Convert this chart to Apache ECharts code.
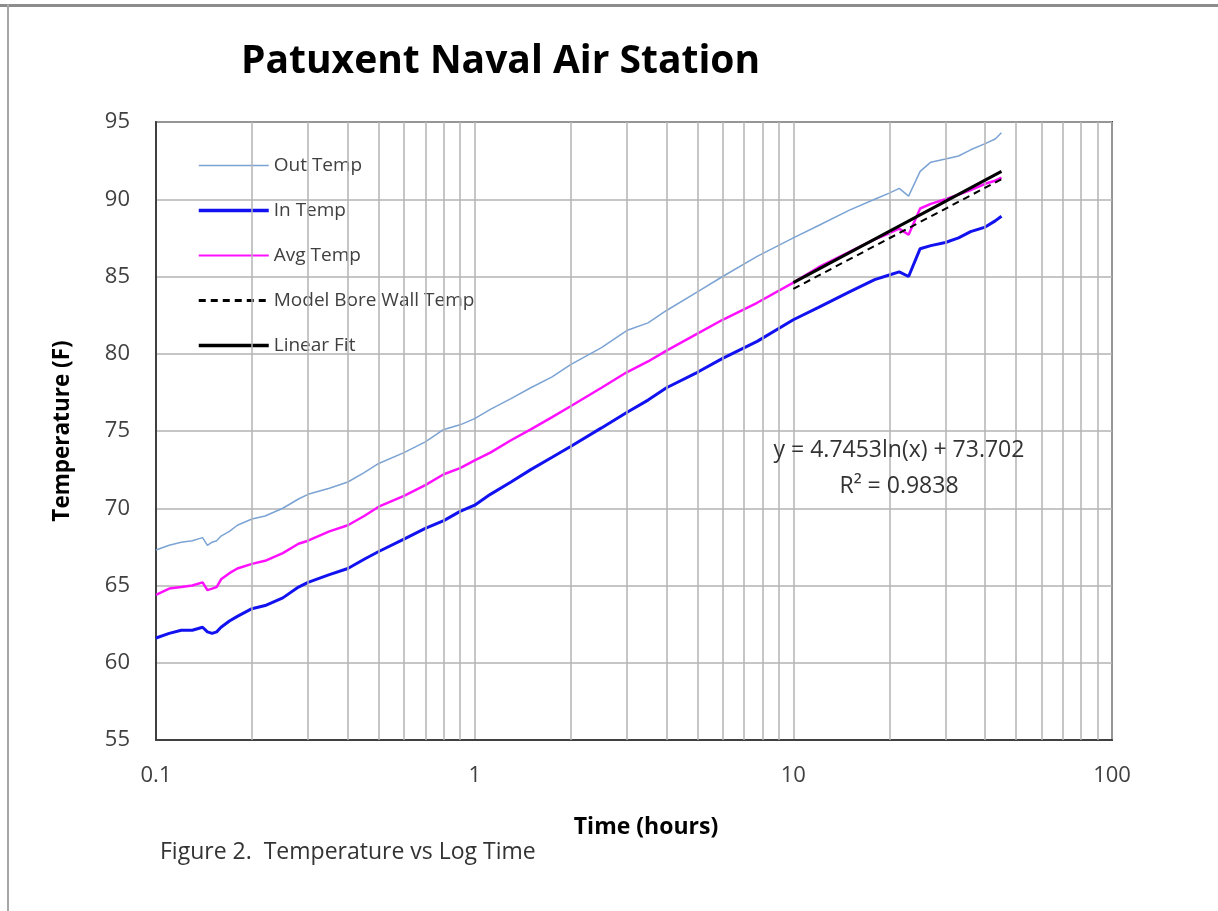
<!DOCTYPE html>
<html>
<head>
<meta charset="utf-8">
<script src="https://cdn.jsdelivr.net/npm/echarts@6/dist/echarts.min.js"></script>
<style>
  html, body { margin:0; padding:0; background:#fff; }
  #chart { width:1218px; height:911px; }
</style>
</head>
<body>
<div id="chart"></div>
<script>
const hours = [0.1, 0.11, 0.12, 0.13, 0.14, 0.145, 0.15, 0.155, 0.16, 0.17, 0.18, 0.2, 0.22, 0.25, 0.28, 0.3,
  0.35, 0.4, 0.45, 0.5, 0.6, 0.7, 0.8, 0.9, 1, 1.12, 1.3, 1.5, 1.75, 2, 2.5, 3, 3.5, 4, 5, 6, 7.7, 10,
  12, 15, 18, 20, 21.5, 23, 25, 27, 30, 33, 36, 40, 43, 45];

const outTemp = [67.3, 67.6, 67.8, 67.9, 68.1, 67.6, 67.8, 67.9, 68.2, 68.5, 68.9, 69.3, 69.5, 70.0, 70.6, 70.9,
  71.3, 71.7, 72.3, 72.9, 73.6, 74.3, 75.1, 75.4, 75.8, 76.4, 77.1, 77.8, 78.5, 79.3, 80.4, 81.5, 82.0, 82.8, 84.0, 85.0, 86.3, 87.5,
  88.3, 89.3, 90.0, 90.4, 90.7, 90.2, 91.8, 92.4, 92.6, 92.8, 93.2, 93.6, 93.9, 94.3];

const inTemp = [61.6, 61.9, 62.1, 62.1, 62.3, 62.0, 61.9, 62.0, 62.3, 62.7, 63.0, 63.5, 63.7, 64.2, 64.9, 65.2,
  65.7, 66.1, 66.7, 67.2, 68.0, 68.7, 69.2, 69.8, 70.2, 70.9, 71.7, 72.5, 73.3, 74.0, 75.2, 76.2, 77.0, 77.8, 78.8, 79.7, 80.8, 82.2,
  83.0, 84.0, 84.8, 85.1, 85.3, 85.0, 86.8, 87.0, 87.2, 87.5, 87.9, 88.2, 88.6, 88.9];

const avgTemp = [64.4, 64.8, 64.9, 65.0, 65.2, 64.7, 64.8, 64.9, 65.4, 65.8, 66.1, 66.4, 66.6, 67.1, 67.7, 67.9,
  68.5, 68.9, 69.5, 70.1, 70.8, 71.5, 72.2, 72.6, 73.1, 73.6, 74.4, 75.1, 75.9, 76.6, 77.8, 78.8, 79.5, 80.2, 81.3, 82.2, 83.3, 84.6,
  85.6, 86.6, 87.4, 87.8, 88.1, 87.7, 89.4, 89.7, 90.0, 90.3, 90.6, 91.0, 91.2, 91.4];

// model and fit are straight in log time: end points only
const modelHours = [10, 45];
const modelTemp = [84.2, 91.3];
const fitHours = [10, 45];
const fitTemp = [84.6, 91.8];

const minorGrid = [0.2, 0.3, 0.4, 0.5, 0.6, 0.7, 0.8, 0.9, 2, 3, 4, 5, 6, 7, 8, 9,
  20, 30, 40, 50, 60, 70, 80, 90];

const pair = (xs, ys) => xs.map((x, i) => [x, ys[i]]);

const FONT = "'Open Sans', 'Liberation Sans', sans-serif";
const GRID = "#b3b3b3";
const TXT = "#404040";

const chart = echarts.init(document.getElementById("chart"));
chart.setOption({
  animation: false,
  backgroundColor: "#fff",
  textStyle: { fontFamily: FONT },
  title: {
    text: "Patuxent Naval Air Station",
    left: 236, top: 37,
    textStyle: { fontFamily: FONT, fontSize: 39, fontWeight: "bold", color: "#000" }
  },
  grid: { left: 156, top: 122, right: 106, bottom: 171, show: true, borderColor: "#404040", borderWidth: 2 },
  legend: {
    data: [
      { name: "Out Temp", lineStyle: { width: 1.5 } },
      { name: "In Temp", lineStyle: { width: 3.5 } },
      { name: "Avg Temp", lineStyle: { width: 2 } },
      { name: "Model Bore Wall Temp", lineStyle: { width: 3 } },
      { name: "Linear Fit", lineStyle: { width: 3.5 } }
    ],
    orient: "vertical", left: 192, top: 151,
    itemWidth: 70, itemHeight: 14, itemGap: 26,
    itemStyle: { opacity: 0 },
    textStyle: { fontFamily: FONT, fontSize: 19, color: TXT }
  },
  xAxis: {
    type: "log", logBase: 10, min: 0.1, max: 100,
    name: "Time (hours)", nameLocation: "middle", nameGap: 76,
    nameTextStyle: { fontFamily: FONT, fontSize: 23, fontWeight: "bold", color: "#000", padding: [0, 0, 0, 24] },
    axisLine: { lineStyle: { color: "#404040", width: 2 } },
    axisTick: { show: false },
    axisLabel: { margin: 25, fontSize: 22, color: TXT, fontFamily: FONT },
    splitLine: { show: true, lineStyle: { color: GRID, width: 1.5 } }
  },
  yAxis: {
    type: "value", min: 55, max: 95, interval: 5,
    name: "Temperature (F)", nameLocation: "middle", nameGap: 82,
    nameTextStyle: { fontFamily: FONT, fontSize: 22.5, fontWeight: "bold", color: "#000" },
    axisLine: { show: true, lineStyle: { color: "#404040", width: 2 } },
    axisTick: { show: false },
    axisLabel: { margin: 26, fontSize: 22, color: TXT, fontFamily: FONT },
    splitLine: { show: true, lineStyle: { color: GRID, width: 1.5 } }
  },
  series: [
    {
      name: "grid", type: "line", data: [[0.1, 55]], symbol: "none", silent: true,
      lineStyle: { opacity: 0 }, z: 1,
      markLine: {
        silent: true, symbol: ["none", "none"], label: { show: false }, animation: false,
        lineStyle: { color: GRID, width: 1.5, type: "solid" },
        data: minorGrid.map(v => ({ xAxis: v }))
      }
    },
    {
      name: "Out Temp", type: "line", data: pair(hours, outTemp), symbol: "none", z: 3,
      lineStyle: { color: "#7ba3d3", width: 1.5 }, itemStyle: { color: "#7ba3d3" }
    },
    {
      name: "In Temp", type: "line", data: pair(hours, inTemp), symbol: "none", z: 3,
      lineStyle: { color: "#1212f0", width: 3 }, itemStyle: { color: "#1212f0" }
    },
    {
      name: "Avg Temp", type: "line", data: pair(hours, avgTemp), symbol: "none", z: 4,
      lineStyle: { color: "#ff10ff", width: 2.5 }, itemStyle: { color: "#ff10ff" }
    },
    {
      name: "Model Bore Wall Temp", type: "line", data: pair(modelHours, modelTemp), symbol: "none", z: 5,
      lineStyle: { color: "#000", width: 2, type: [7, 5] }, itemStyle: { color: "#000" }
    },
    {
      name: "Linear Fit", type: "line", data: pair(fitHours, fitTemp), symbol: "none", z: 6,
      lineStyle: { color: "#000", width: 3 }, itemStyle: { color: "#000" }
    }
  ],
  graphic: [
    { type: "rect", left: 0, top: 4, shape: { width: 1218, height: 3 }, style: { fill: "#8c8c8c" }, silent: true },
    { type: "rect", left: 7, top: 4, shape: { width: 2, height: 907 }, style: { fill: "#a6a6a6" }, silent: true },
    {
      type: "text", x: 899, y: 450, z: 10,
      style: { text: "y = 4.7453ln(x) + 73.702", fill: "#333", font: "23px " + FONT, textAlign: "center", textVerticalAlign: "middle" }
    },
    {
      type: "text", x: 899, y: 486, z: 10,
      style: { text: "R² = 0.9838", fill: "#333", font: "23px " + FONT, textAlign: "center", textVerticalAlign: "middle" }
    },
    {
      type: "text", x: 160, y: 852,
      style: { text: "Figure 2.  Temperature vs Log Time", fill: "#333", font: "23px " + FONT, textAlign: "left", textVerticalAlign: "middle" }
    }
  ]
});
</script>
</body>
</html>
